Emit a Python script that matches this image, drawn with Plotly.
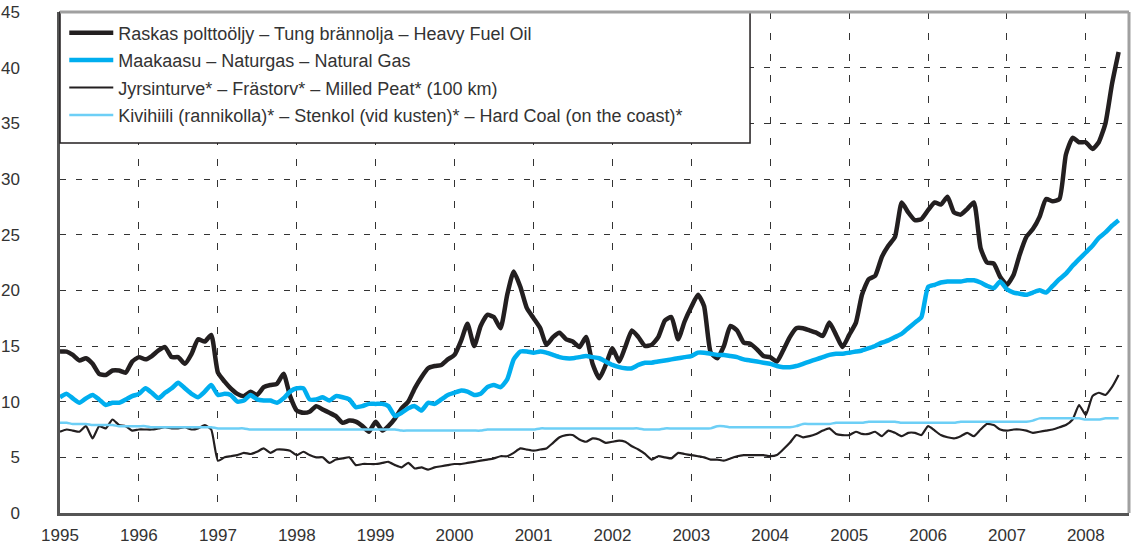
import pandas as pd
import plotly.graph_objects as go

# monthly prices, Jan 1995 - Jun 2008
months = pd.date_range("1995-01-01", periods=162, freq="MS")

heavy_fuel_oil = [
    14.5, 14.5, 14.2, 13.7, 13.9, 13.4, 12.5, 12.4, 12.8, 12.8, 12.6, 13.6,  # 1995
    14.0, 13.8, 14.1, 14.6, 14.9, 14.0, 14.0, 13.4, 14.3, 15.6, 15.4, 16.0,  # 1996
    12.6, 11.8, 11.2, 10.7, 10.5, 10.9, 10.6, 11.3, 11.5, 11.6, 12.5, 10.5,  # 1997
    9.2, 9.0, 9.1, 9.6, 9.3, 9.0, 8.7, 8.1, 8.3, 8.2, 7.8, 7.3,  # 1998
    8.2, 7.4, 7.8, 8.5, 9.4, 10.0, 11.2, 12.2, 13.0, 13.2, 13.3, 13.8,  # 1999
    14.2, 15.5, 17.0, 15.0, 16.8, 17.8, 17.6, 16.6, 19.6, 21.7, 20.3, 18.4,  # 2000
    17.5, 16.6, 15.1, 15.8, 16.2, 15.6, 15.4, 14.9, 15.8, 13.4, 12.1, 13.3,  # 2001
    14.8, 13.6, 14.9, 16.4, 15.8, 15.0, 15.1, 15.8, 17.3, 17.6, 15.6, 17.2,  # 2002
    18.5, 19.6, 18.6, 14.4, 13.9, 15.0, 16.8, 16.4, 15.3, 15.2, 14.7, 14.1,  # 2003
    14.0, 13.6, 14.6, 15.8, 16.6, 16.6, 16.4, 16.2, 15.9, 17.1, 16.0, 14.9,  # 2004
    16.0, 17.1, 19.6, 21.0, 21.3, 23.0, 24.0, 24.8, 27.9, 27.0, 26.3, 26.4,  # 2005
    27.2, 27.9, 27.7, 28.4, 27.0, 26.8, 27.3, 27.9, 23.8, 22.5, 22.4, 21.2,  # 2006
    20.5, 21.4, 23.2, 24.8, 25.5, 26.6, 28.2, 28.0, 28.2, 32.2, 33.7, 33.3,  # 2007
    33.3, 32.7, 33.3, 35.0, 38.5, 41.4,  # 2008
]

natural_gas = [
    10.4, 10.7, 10.3, 9.9, 10.3, 10.6, 10.2, 9.7, 9.9, 9.9, 10.2, 10.5,
    10.7, 11.2, 10.8, 10.3, 10.8, 11.2, 11.7, 11.2, 10.7, 10.4, 10.9, 11.5,
    10.6, 10.7, 10.6, 10.0, 10.1, 10.6, 10.2, 10.1, 10.1, 9.9, 10.3, 10.9,
    11.2, 11.2, 10.2, 10.2, 10.4, 10.1, 10.5, 10.4, 10.2, 9.5, 9.6, 9.8,
    9.8, 9.8, 9.6, 8.7, 9.0, 9.4, 9.6, 9.2, 9.9, 9.8, 10.2, 10.6,
    10.8, 11.0, 10.9, 10.6, 10.7, 11.3, 11.5, 11.3, 12.0, 13.8, 14.5, 14.5,
    14.4, 14.5, 14.4, 14.2, 14.0, 13.9, 13.9, 14.0, 14.1, 14.0, 13.9, 13.6,
    13.3, 13.1, 13.0, 13.0, 13.3, 13.5, 13.5, 13.6, 13.7, 13.8, 13.9, 14.0,
    14.1, 14.4, 14.4, 14.3, 14.2, 14.2, 14.1, 14.0, 13.8, 13.7, 13.6, 13.5,
    13.4, 13.2, 13.1, 13.1, 13.2, 13.4, 13.6, 13.8, 14.0, 14.2, 14.3, 14.3,
    14.4, 14.5, 14.6, 14.8, 15.0, 15.3, 15.5, 15.8, 16.1, 16.6, 17.1, 17.6,
    20.3, 20.5, 20.7, 20.8, 20.8, 20.8, 20.9, 20.9, 20.7, 20.4, 20.2, 20.8,
    20.1, 19.8, 19.7, 19.6, 19.8, 20.0, 19.8, 20.4, 21.0, 21.5, 22.2, 22.8,
    23.4, 24.0, 24.7, 25.2, 25.8, 26.3,
]

milled_peat = [
    7.3, 7.5, 7.4, 7.3, 7.8, 6.7, 7.8, 7.6, 8.4, 7.9, 7.8, 7.4,
    7.5, 7.5, 7.5, 7.6, 7.7, 7.6, 7.6, 7.7, 7.5, 7.6, 7.9, 7.5,
    4.7, 5.0, 5.1, 5.2, 5.4, 5.3, 5.5, 5.8, 5.4, 5.7, 5.7, 5.6,
    5.2, 5.5, 5.2, 5.0, 5.0, 4.5, 4.8, 4.9, 5.0, 4.3, 4.4, 4.4,
    4.4, 4.5, 4.6, 4.3, 4.1, 4.5, 4.0, 4.1, 3.9, 4.1, 4.2, 4.3,
    4.4, 4.4, 4.5, 4.6, 4.7, 4.8, 4.9, 5.1, 5.1, 5.4, 5.8, 5.7,
    5.6, 5.7, 5.8, 6.3, 6.8, 7.0, 7.0, 6.6, 6.4, 6.7, 6.6, 6.3,
    6.4, 6.5, 6.4, 6.0, 5.7, 5.3, 4.8, 5.1, 5.0, 4.9, 5.4, 5.3,
    5.2, 5.1, 5.0, 4.8, 4.8, 4.7, 4.9, 5.1, 5.2, 5.2, 5.2, 5.2,
    5.1, 5.2, 5.7, 6.3, 7.0, 6.8, 6.9, 7.1, 7.4, 7.6, 7.1, 7.0,
    7.0, 7.3, 7.1, 7.1, 7.3, 6.9, 7.4, 7.2, 6.9, 7.2, 7.2, 7.0,
    7.8, 7.4, 7.0, 6.8, 6.7, 6.9, 7.2, 6.9, 7.5, 8.0, 7.9, 7.5,
    7.4, 7.5, 7.5, 7.4, 7.2, 7.3, 7.4, 7.5, 7.7, 7.9, 8.4, 9.7,
    8.8, 10.5, 10.8, 10.6, 11.3, 12.4,
]

hard_coal = [
    8.1, 8.1, 8.0, 8.0, 8.0, 7.9, 7.9, 7.9, 7.9, 7.8, 7.8, 7.8,
    7.8, 7.8, 7.7, 7.7, 7.7, 7.7, 7.7, 7.7, 7.7, 7.7, 7.7, 7.7,
    7.6, 7.6, 7.6, 7.6, 7.6, 7.5, 7.5, 7.5, 7.5, 7.5, 7.5, 7.5,
    7.5, 7.5, 7.5, 7.5, 7.5, 7.5, 7.5, 7.5, 7.5, 7.5, 7.5, 7.5,
    7.5, 7.5, 7.5, 7.5, 7.4, 7.4, 7.4, 7.4, 7.4, 7.4, 7.4, 7.4,
    7.4, 7.4, 7.4, 7.4, 7.4, 7.5, 7.5, 7.5, 7.5, 7.5, 7.5, 7.5,
    7.5, 7.6, 7.6, 7.6, 7.6, 7.6, 7.6, 7.6, 7.6, 7.6, 7.6, 7.6,
    7.6, 7.6, 7.6, 7.6, 7.6, 7.5, 7.5, 7.5, 7.6, 7.6, 7.6, 7.6,
    7.6, 7.6, 7.6, 7.6, 7.8, 7.8, 7.7, 7.7, 7.7, 7.7, 7.7, 7.7,
    7.7, 7.7, 7.7, 7.7, 7.8, 8.0, 8.0, 8.0, 8.0, 8.0, 8.1, 8.1,
    8.1, 8.1, 8.1, 8.2, 8.2, 8.2, 8.2, 8.2, 8.1, 8.1, 8.1, 8.1,
    8.1, 8.1, 8.1, 8.1, 8.1, 8.2, 8.2, 8.2, 8.2, 8.2, 8.2, 8.2,
    8.2, 8.2, 8.2, 8.2, 8.3, 8.5, 8.5, 8.5, 8.5, 8.5, 8.5, 8.5,
    8.4, 8.4, 8.4, 8.5, 8.5, 8.5,
]

year_ticks = [f"{y}-01-01" for y in range(1995, 2009)]
year_labels = [str(y) for y in range(1995, 2009)]
y_ticks = list(range(0, 50, 5))

series = [
    ("Raskas polttoöljy – Tung brännolja – Heavy Fuel Oil", heavy_fuel_oil, "#231f20", 4.5),
    ("Maakaasu – Naturgas – Natural Gas", natural_gas, "#00aeef", 4.5),
    ("Jyrsinturve* – Frästorv* – Milled Peat* (100 km)", milled_peat, "#231f20", 2.2),
    ("Kivihiili (rannikolla)* – Stenkol (vid kusten)* – Hard Coal (on the coast)*", hard_coal, "#6dcff6", 2.5),
]

fig = go.Figure()
for i, (name, vals, col, w) in enumerate(series):
    fig.add_trace(go.Scatter(x=months, y=vals, mode="lines", name=name,
                             legendgroup=str(i),
                             line=dict(color=col, width=w, shape="spline", smoothing=0.5)))

txt = "#333333"
fig.update_layout(
    width=1137, height=547,
    margin=dict(l=60, r=8, t=12, b=34, autoexpand=False),
    paper_bgcolor="white", plot_bgcolor="white",
    font=dict(family="Liberation Sans, Arial, sans-serif", color=txt, size=17),
    showlegend=True,
    legend=dict(x=0.004, y=0.995, xanchor="left", yanchor="top",
                bgcolor="rgba(0,0,0,0)", borderwidth=0,
                font=dict(size=18, color=txt),
                tracegroupgap=1, itemwidth=44,
                traceorder="grouped"),
    shapes=[
        # legend box
        dict(type="rect", xref="paper", yref="paper", x0=0, x1=0.6455, y0=0.7385, y1=1,
             fillcolor="white", line=dict(color="#231f20", width=1.5), layer="above"),
        # top / right frame
        dict(type="line", xref="paper", yref="paper", x0=0, x1=1, y0=1, y1=1,
             line=dict(color="#a0a0a0", width=3)),
        dict(type="line", xref="paper", yref="paper", x0=1, x1=1, y0=0, y1=1,
             line=dict(color="#a0a0a0", width=3)),
    ],
)

fig.update_xaxes(
    range=["1995-01-01", "2008-07-19"], automargin=False,
    tickmode="array", tickvals=year_ticks, ticktext=year_labels,
    tickfont=dict(size=17, color=txt), ticklabelstandoff=5,
    showgrid=True, gridcolor="#333333", gridwidth=1, griddash="7px,14px",
    showline=True, linecolor="#555555", linewidth=2.5,
    ticks="", zeroline=False,
)
fig.update_yaxes(
    range=[0, 45], tickmode="array", tickvals=y_ticks, automargin=False,
    tickfont=dict(size=17, color=txt),
    showgrid=True, gridcolor="#333333", gridwidth=1, griddash="6px,10px",
    showline=True, linecolor="#555555", linewidth=2.5,
    ticks="", zeroline=False, ticklabelstandoff=34,
)

# drop the browser's default body margin so the figure fills the window
fig.write_html("out.html", config={"displayModeBar": False},
               post_script="document.body.style.margin='0';")
